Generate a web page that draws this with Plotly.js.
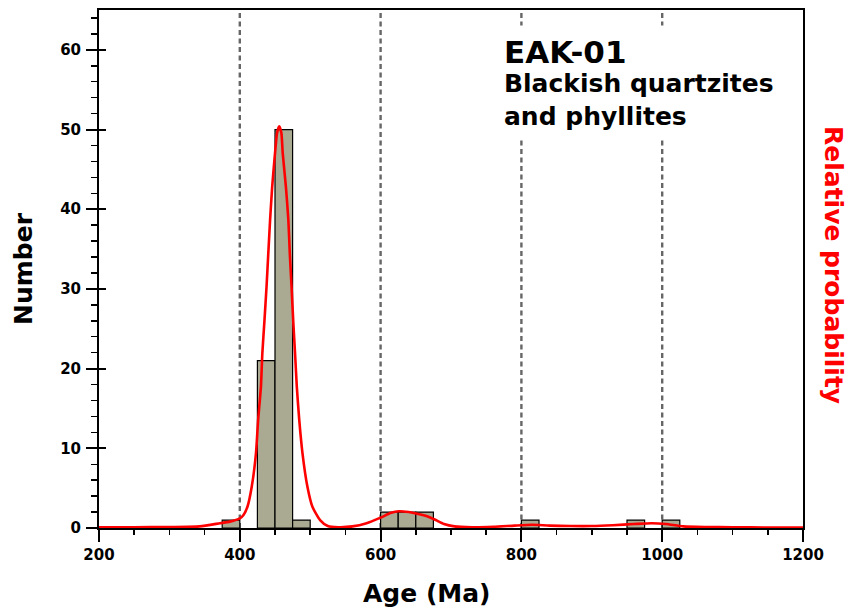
<!DOCTYPE html>
<html>
<head>
<meta charset="utf-8">
<script src="https://cdn.plot.ly/plotly-3.0.1.min.js"></script>
<style>html,body{margin:0;padding:0;background:#fff}#chart{width:850px;height:610px}</style>
</head>
<body>
<div id="chart"></div>
<script>
// Histogram bins (left edges, Ma) and counts
const binLeft = [375, 425, 450, 475, 600, 625, 650, 800, 950, 1000];
const binCounts = [1, 21, 50, 1, 2, 2, 2, 1, 1, 1];
const binWidth = 25;

// Relative probability curve (scaled to count axis)
const pdpAge = [200, 250, 300, 343, 372, 386, 400, 405, 411, 417, 423, 426, 430, 432, 435, 438, 440.5, 443, 446, 450, 453, 456, 459, 461, 465.5, 469, 471, 473.5, 476, 478.5, 481, 484.5, 489, 496, 503, 514, 525, 540, 560, 580, 600, 615, 626, 640, 652, 665, 676, 690, 705, 730, 760, 790, 815, 840, 870, 900, 930, 960, 985, 1005, 1030, 1060, 1100, 1150, 1200];
const pdpProb = [0.1, 0.1, 0.12, 0.2, 0.6, 0.8, 1.2, 1.6, 2.7, 5.2, 9.4, 13.5, 17.7, 21.9, 26.0, 30.3, 34.5, 38.6, 42.8, 47.0, 49.6, 50.4, 49.6, 47.0, 42.8, 38.6, 34.5, 30.3, 25.8, 21.9, 17.7, 13.5, 9.4, 5.2, 2.7, 1.0, 0.25, 0.1, 0.2, 0.6, 1.3, 1.9, 2.1, 2.0, 1.8, 1.5, 1.1, 0.5, 0.2, 0.1, 0.15, 0.3, 0.4, 0.3, 0.25, 0.25, 0.35, 0.5, 0.6, 0.5, 0.2, 0.12, 0.1, 0.06, 0.05];

// Reference lines (Ma)
const refLines = [400, 600, 800, 1000];

const yRange = [0, 65];
const xRange = [200, 1200];
const FONT = "DejaVu Sans, Liberation Sans, sans-serif";

const traces = [
  {
    type: 'bar', x: binLeft, y: binCounts, width: binWidth, offset: 0,
    marker: {color: '#a9aa91', line: {color: '#000', width: 1.2}},
    xaxis: 'x', yaxis: 'y', hoverinfo: 'x+y'
  },
  {
    type: 'scatter', mode: 'lines', x: pdpAge, y: pdpProb,
    line: {color: '#ff0000', width: 2.6, shape: 'spline', smoothing: 0.6},
    xaxis: 'x', yaxis: 'y2'
  },
  {type: 'scatter', x: [null], y: [null], yaxis: 'y3', xaxis: 'x', hoverinfo: 'skip', showlegend: false}
];

const shapes = refLines.map(v => ({
  type: 'line', xref: 'x', yref: 'paper', x0: v, x1: v, y0: 0, y1: 1,
  line: {color: '#666', width: 2.4, dash: '5px,3.5px'}, layer: 'below'
}));
shapes.push({type: 'rect', xref: 'paper', yref: 'paper', x0: 0.56, x1: 0.975, y0: 0.755, y1: 0.97,
  fillcolor: '#fff', line: {width: 0}, layer: 'below'});

const layout = {
  width: 850, height: 610,
  margin: {l: 99, r: 47, t: 10, b: 82},
  paper_bgcolor: '#fff', plot_bgcolor: 'rgba(0,0,0,0)',
  showlegend: false, bargap: 0,
  font: {family: FONT, color: '#000', size: 15, weight: 'bold'},
  xaxis: {
    range: xRange, dtick: 200, tick0: 0, ticks: 'outside', ticklen: 12, tickwidth: 2,
    tickcolor: '#000', showline: true, linewidth: 2, linecolor: '#000', mirror: true,
    showgrid: false, zeroline: false,
    tickfont: {family: FONT, size: 15, weight: 'bold'},
    minor: {dtick: 50, ticks: 'outside', ticklen: 5, tickwidth: 1.5, tickcolor: '#000', showgrid: false}
  },
  yaxis: {
    range: yRange, dtick: 10, ticks: 'outside', ticklen: 11, tickwidth: 2,
    tickcolor: '#000', showline: true, linewidth: 2, linecolor: '#000', mirror: true,
    showgrid: false, zeroline: false, ticklabelstandoff: 2,
    tickfont: {family: FONT, size: 15, weight: 'bold'},
    minor: {dtick: 2, ticks: 'outside', ticklen: 6, tickwidth: 1.5, tickcolor: '#000', showgrid: false},
    title: {text: 'Number', font: {family: FONT, size: 25, weight: 'bold'}, standoff: 20}
  },
  yaxis2: {
    range: yRange, overlaying: 'y', side: 'right', showticklabels: false, ticks: '',
    showgrid: false, zeroline: false, showline: false
  },
  yaxis3: {
    range: yRange, overlaying: 'y', side: 'left', showticklabels: false, ticks: 'inside',
    ticklen: 7, tickwidth: 2, tickcolor: '#000', dtick: 10,
    showgrid: false, zeroline: false, showline: false
  },
  shapes: shapes,
  annotations: [
    {xref: 'paper', yref: 'paper', x: 0.573, y: 0.958, xanchor: 'left', yanchor: 'top',
     text: 'EAK-01', showarrow: false, font: {family: FONT, size: 31, weight: 'bold', color: '#000'}},
    {xref: 'paper', yref: 'paper', x: 0.573, y: 0.89, xanchor: 'left', yanchor: 'top', align: 'left',
     text: 'Blackish quartzites<br>and phyllites', showarrow: false,
     font: {family: FONT, size: 25, weight: 'bold', color: '#000'}},
    {xref: 'paper', yref: 'paper', x: (427 - 99) / 704, y: -0.127, xanchor: 'center', yanchor: 'middle',
     text: 'Age (Ma)', showarrow: false, font: {family: FONT, size: 25, weight: 'bold', color: '#000'}},
    {xref: 'paper', yref: 'paper', x: 1 + (834 - 803) / 704, y: (528 - 265) / 518, xanchor: 'center', yanchor: 'middle',
     text: 'Relative probability', textangle: 90, showarrow: false,
     font: {family: FONT, size: 25, weight: 'bold', color: '#ff0000'}}
  ]
};

Plotly.newPlot('chart', traces, layout, {displayModeBar: false, staticPlot: true});
</script>
</body>
</html>
